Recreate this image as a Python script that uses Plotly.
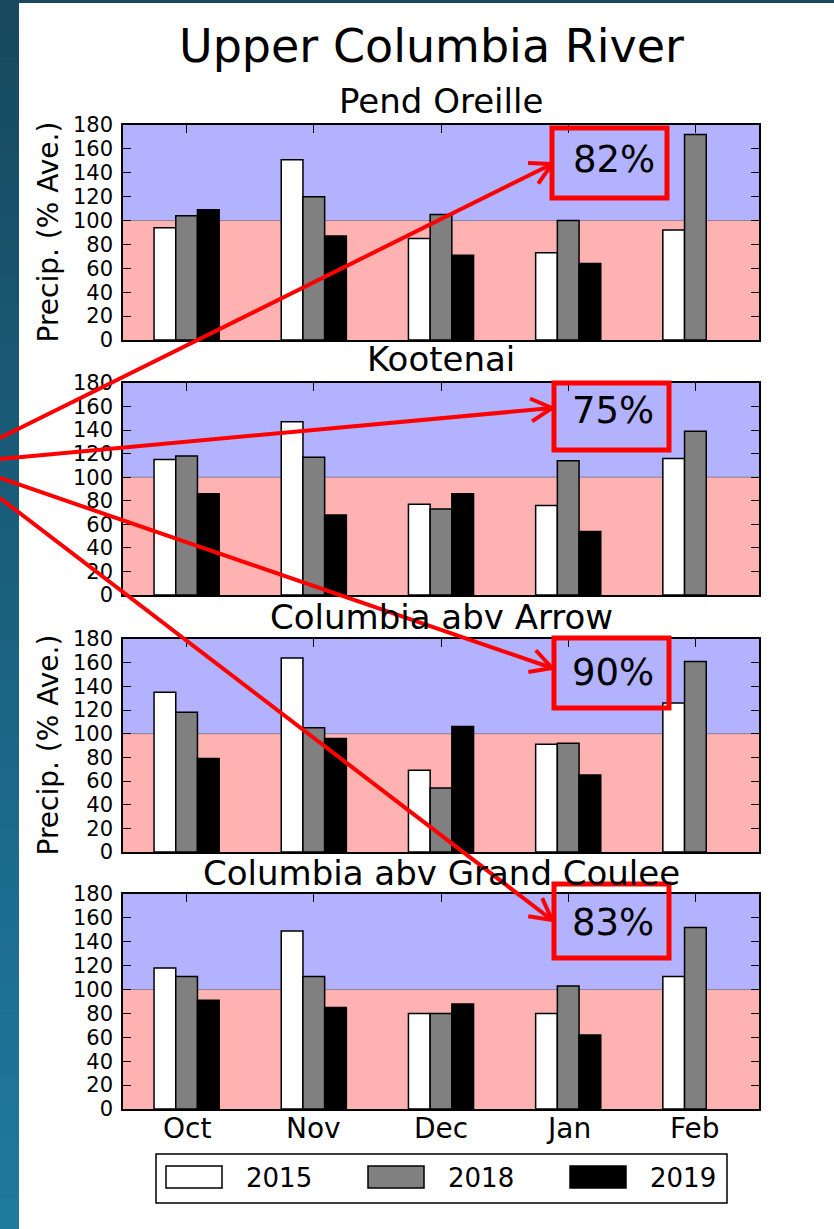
import plotly.graph_objects as go
import numpy as np

# ---------------- data ----------------
MONTHS = ["Oct", "Nov", "Dec", "Jan", "Feb"]
YEARS = ["2015", "2018", "2019"]
BASINS = ["Pend Oreille", "Kootenai", "Columbia abv Arrow", "Columbia abv Grand Coulee"]

PEND_2015 = [94, 151, 85, 73, 92]
PEND_2018 = [104, 120, 105, 100, 172]
PEND_2019 = [109, 87, 71, 64, None]

KOOT_2015 = [115, 147, 77, 76, 116]
KOOT_2018 = [118, 117, 73, 114, 139]
KOOT_2019 = [86, 68, 86, 54, None]

ARROW_2015 = [135, 164, 69, 91, 126]
ARROW_2018 = [118, 105, 54, 92, 161]
ARROW_2019 = [79, 96, 106, 65, None]

GC_2015 = [118, 149, 80, 80, 111]
GC_2018 = [111, 111, 80, 103, 152]
GC_2019 = [91, 85, 88, 62, None]

SEASON_PCT = ["82%", "75%", "90%", "83%"]

AVERAGE = 100
Y_MAX = 180
Y_TICKS = list(range(0, 181, 20))

PANEL_DATA = [
    [PEND_2015, PEND_2018, PEND_2019],
    [KOOT_2015, KOOT_2018, KOOT_2019],
    [ARROW_2015, ARROW_2018, ARROW_2019],
    [GC_2015, GC_2018, GC_2019],
]

# ---------------- style / layout ----------------
YEAR_COLORS = ["#ffffff", "#808080", "#000000"]
ABOVE_COLOR = "#b2b2ff"
BELOW_COLOR = "#ffb2b2"
FONT = "DejaVu Sans"
W, H = 834, 1229
X0, X1 = 123, 759
PANEL_TOP = [125, 383, 639, 894]
PANEL_BOT = [340, 595, 852, 1109]
TITLE_Y = [101, 359, 617, 873]
MONTH_LABEL_Y = 1128


def px(x):
    return x / W


def py(y):
    return 1 - y / H


fig = go.Figure()
shapes = []
annotations = []

for k in range(4):
    n = k + 1
    xa = "x" if n == 1 else f"x{n}"
    ya = "y" if n == 1 else f"y{n}"
    for j, year in enumerate(YEARS):
        fig.add_trace(go.Bar(
            x=list(range(len(MONTHS))), y=PANEL_DATA[k][j], name=year,
            marker=dict(color=YEAR_COLORS[j], line=dict(color="black", width=1.5)),
            xaxis=xa, yaxis=ya, offsetgroup=str(j), showlegend=False,
        ))
    # background spans
    shapes.append(dict(type="rect", xref=f"{xa} domain", yref=ya, x0=0, x1=1,
                       y0=0, y1=AVERAGE, fillcolor=BELOW_COLOR, line=dict(width=0), layer="below"))
    shapes.append(dict(type="rect", xref=f"{xa} domain", yref=ya, x0=0, x1=1,
                       y0=AVERAGE, y1=Y_MAX, fillcolor=ABOVE_COLOR, line=dict(width=0), layer="below"))
    shapes.append(dict(type="line", xref=f"{xa} domain", yref=ya, x0=0, x1=1,
                       y0=AVERAGE, y1=AVERAGE, line=dict(color="rgba(0,0,0,0.35)", width=1), layer="below"))

    axis_common = dict(showline=True, linecolor="black", linewidth=1.5, mirror="ticks",
                       ticks="inside", ticklen=8, tickwidth=1, tickcolor="black",
                       showgrid=False, zeroline=False, layer="below traces", fixedrange=True,
                       automargin=False)
    fig.layout[f"xaxis{'' if n == 1 else n}"] = dict(
        domain=[px(X0), px(X1)], range=[-0.5, len(MONTHS) - 0.5],
        tickvals=list(range(len(MONTHS))), ticktext=MONTHS,
        showticklabels=False, anchor=ya, **axis_common)
    fig.layout[f"yaxis{'' if n == 1 else n}"] = dict(
        domain=[py(PANEL_BOT[k]), py(PANEL_TOP[k])], range=[0, Y_MAX],
        tickvals=Y_TICKS, tickfont=dict(family=FONT, size=21, color="black"),
        ticklabelstandoff=4, anchor=xa, **axis_common)

    annotations.append(dict(text=BASINS[k], x=px((X0 + X1) / 2), y=py(TITLE_Y[k]),
                            xref="paper", yref="paper", showarrow=False,
                            xanchor="center", yanchor="middle",
                            font=dict(family=FONT, size=34, color="black")))
    if n in (1, 3):
        annotations.append(dict(text="Precip. (% Ave.)", textangle=-90,
                                x=px(48), y=py((PANEL_TOP[k] + PANEL_BOT[k]) / 2),
                                xref="paper", yref="paper", showarrow=False,
                                xanchor="center", yanchor="middle",
                                font=dict(family=FONT, size=28, color="black")))

# month labels under the bottom panel (placed on the bottom x axis)
for i, m in enumerate(MONTHS):
    annotations.append(dict(text=m, x=i, xref="x4", y=py(MONTH_LABEL_Y), yref="paper",
                            showarrow=False, xanchor="center", yanchor="middle",
                            font=dict(family=FONT, size=28, color="black")))

# main title
annotations.append(dict(text="Upper Columbia River", x=px(431), y=py(46), xref="paper", yref="paper",
                        showarrow=False, xanchor="center", yanchor="middle",
                        font=dict(family=FONT, size=46, color="black")))

# ---------------- legend (manual, large swatches) ----------------
shapes.append(dict(type="rect", xref="paper", yref="paper", x0=px(156), x1=px(727),
                   y0=py(1203), y1=py(1154), line=dict(color="black", width=1.5),
                   fillcolor="white", layer="above"))
for j, year in enumerate(YEARS):
    sx = 166 + j * 202
    shapes.append(dict(type="rect", xref="paper", yref="paper", x0=px(sx), x1=px(sx + 56),
                       y0=py(1188), y1=py(1166), line=dict(color="black", width=1.5),
                       fillcolor=YEAR_COLORS[j], layer="above"))
    annotations.append(dict(text=year, x=px(sx + 78), y=py(1178), xref="paper", yref="paper",
                            showarrow=False, xanchor="left", yanchor="middle",
                            font=dict(family=FONT, size=26, color="black")))

# ---------------- red call-out arrows and boxes ----------------
ORIGINS = [(0, 438), (0, 459), (0, 478), (0, 498)]
TIPS = [(552, 164), (552, 408), (552, 668), (552, 920)]
BOXES = [(552, 128, 667, 198), (554, 383, 669, 450), (554, 638, 669, 708), (554, 884, 669, 958)]
TEXT_POS = [(614, 159), (613, 411), (613, 672), (613, 922)]
RED = "#ff0000"
for k in range(4):
    ox, oy = ORIGINS[k]
    tx, ty = TIPS[k]
    shapes.append(dict(type="line", xref="paper", yref="paper", x0=px(ox), y0=py(oy),
                       x1=px(tx), y1=py(ty), line=dict(color=RED, width=4)))
    ang = np.arctan2(oy - ty, ox - tx)
    for d in (-0.5, 0.5):
        ax = tx + 24 * np.cos(ang + d)
        ay = ty + 24 * np.sin(ang + d)
        shapes.append(dict(type="line", xref="paper", yref="paper", x0=px(tx), y0=py(ty),
                           x1=px(ax), y1=py(ay), line=dict(color=RED, width=4)))
    bx0, by0, bx1, by1 = BOXES[k]
    shapes.append(dict(type="rect", xref="paper", yref="paper", x0=px(bx0), x1=px(bx1),
                       y0=py(by1), y1=py(by0), line=dict(color=RED, width=5),
                       fillcolor="rgba(0,0,0,0)"))
    annotations.append(dict(text=SEASON_PCT[k], x=px(TEXT_POS[k][0]), y=py(TEXT_POS[k][1]),
                            xref="paper", yref="paper", showarrow=False,
                            xanchor="center", yanchor="middle",
                            font=dict(family=FONT, size=37, color="black")))

# ---------------- frame: dark strip on left and top ----------------
N_BANDS = 40
c_top = np.array([0x17, 0x4a, 0x60])
c_bot = np.array([0x1f, 0x7a, 0xa0])
band_h = H / N_BANDS
for b in range(N_BANDS):
    t = b / (N_BANDS - 1)
    c = (c_top * (1 - t) + c_bot * t).astype(int)
    shapes.append(dict(type="rect", xref="paper", yref="paper", x0=0, x1=px(19),
                       y0=py(min(H, (b + 1) * band_h + 2)), y1=py(b * band_h),
                       fillcolor=f"rgb({c[0]},{c[1]},{c[2]})", line=dict(width=0), layer="below"))
shapes.append(dict(type="rect", xref="paper", yref="paper", x0=0, x1=1, y0=py(3), y1=1,
                   fillcolor="rgb(23,74,96)", line=dict(width=0), layer="below"))

fig.update_layout(
    width=W, height=H, margin=dict(l=0, r=0, t=0, b=0, pad=0, autoexpand=False),
    paper_bgcolor="white", plot_bgcolor="white",
    barmode="group", bargap=0.488, bargroupgap=0,
    shapes=shapes, annotations=annotations, showlegend=False,
    font=dict(family=FONT, color="black"),
)

fig.write_html(
    "out.html",
    config={"displayModeBar": False},
    post_script=(
        "var s=document.documentElement.style, b=document.body.style;"
        "b.margin='0';b.padding='0';b.overflow='hidden';s.overflow='hidden';"
    ),
)
